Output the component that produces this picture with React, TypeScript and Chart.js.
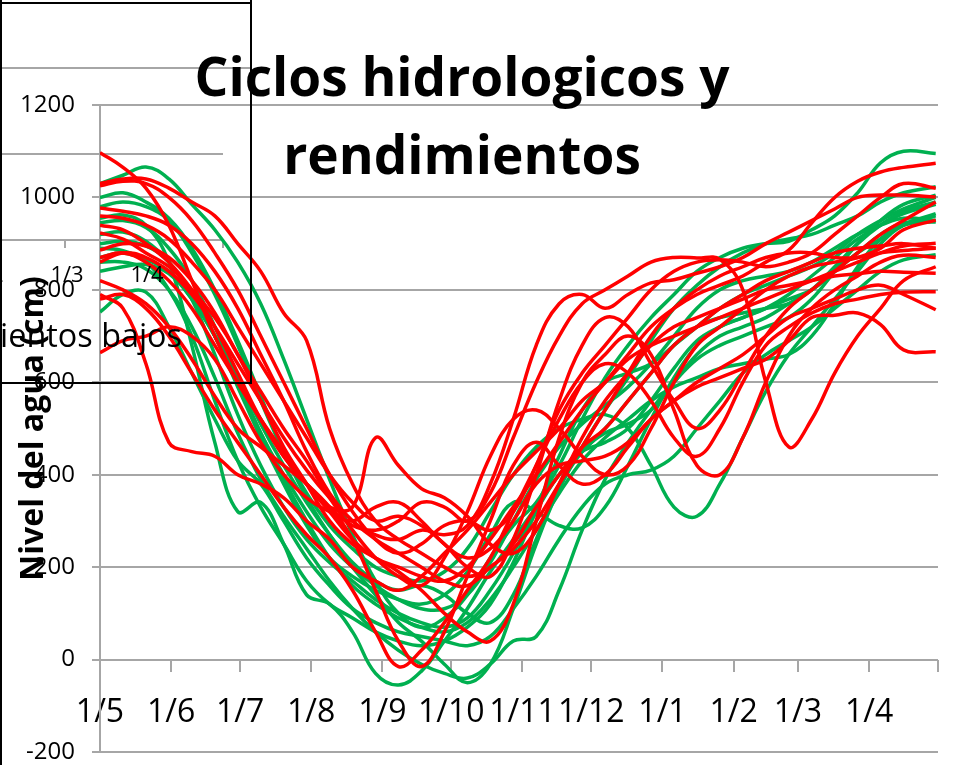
import React, { useEffect, useRef } from 'react';
import { Chart, registerables } from 'chart.js';

Chart.register(...registerables);

// ---- data ----
const DAYS = [0, 10, 20, 30, 40, 50, 60, 70, 80, 90, 100, 110, 120, 130, 140, 150, 160, 170, 180, 190, 200, 210, 220, 230, 240, 250, 260, 270, 280, 290, 300, 310, 320, 330, 340, 350, 364];
const TICK_DAYS = [0, 31, 61, 92, 123, 153, 184, 214, 245, 276, 304, 335, 365];
const TICK_LABELS = ['1/5', '1/6', '1/7', '1/8', '1/9', '1/10', '1/11', '1/12', '1/1', '1/2', '1/3', '1/4', ''];
const Y_MIN = -200;
const Y_MAX = 1200;
const Y_STEP = 200;

const G1 = [1030, 1048, 1066, 1040, 985, 930, 860, 770, 650, 520, 390, 270, 170, 100, 70, 90, 140, 220, 290, 340, 420, 520, 610, 680, 740, 790, 840, 870, 890, 900, 905, 930, 960, 1010, 1075, 1100, 1095];
const G2 = [1000, 1010, 990, 955, 890, 800, 690, 570, 450, 350, 270, 200, 140, 80, 40, -10, -50, -10, 110, 250, 370, 460, 540, 610, 690, 760, 810, 850, 880, 900, 910, 920, 940, 960, 990, 1010, 1023];
const G3 = [955, 962, 940, 860, 680, 470, 320, 340, 250, 140, 120, 60, -30, -55, -25, 40, 110, 190, 260, 330, 400, 450, 500, 560, 620, 680, 720, 740, 750, 760, 770, 800, 850, 900, 940, 970, 990];
const G4 = [945, 950, 935, 890, 820, 720, 600, 490, 400, 320, 250, 200, 160, 130, 110, 110, 140, 210, 300, 390, 460, 510, 550, 590, 640, 700, 760, 800, 820, 830, 840, 860, 890, 920, 940, 955, 950];
const G5 = [900, 905, 895, 860, 780, 660, 530, 420, 330, 260, 210, 170, 130, 100, 80, 70, 90, 150, 230, 330, 440, 540, 600, 620, 640, 680, 720, 760, 790, 810, 830, 850, 880, 920, 950, 975, 1000];
const G6 = [890, 885, 860, 800, 700, 560, 430, 330, 250, 170, 120, 90, 60, 40, 30, 40, 70, 120, 210, 320, 400, 450, 470, 500, 560, 630, 690, 720, 740, 760, 780, 800, 840, 880, 910, 940, 960];
const G7 = [870, 880, 865, 840, 780, 700, 610, 510, 420, 340, 270, 210, 170, 150, 160, 140, 100, 80, 140, 260, 370, 450, 490, 510, 540, 600, 660, 700, 720, 740, 770, 800, 840, 880, 920, 945, 947];
const G8 = [752, 790, 795, 720, 620, 520, 430, 380, 300, 220, 160, 110, 80, 60, 50, 40, 30, 50, 110, 180, 260, 330, 380, 400, 410, 440, 500, 560, 620, 660, 690, 720, 760, 800, 840, 865, 876];
const G9 = [860, 860, 845, 800, 720, 610, 490, 390, 310, 240, 170, 110, 60, 20, -10, -30, -40, -10, 40, 50, 150, 280, 390, 470, 540, 600, 650, 680, 700, 720, 740, 780, 840, 900, 950, 985, 1005];
const G10 = [920, 925, 905, 860, 790, 700, 590, 480, 380, 290, 220, 180, 150, 130, 120, 140, 190, 270, 340, 320, 290, 285, 330, 420, 520, 610, 680, 720, 740, 760, 790, 830, 870, 910, 940, 965, 985];
const G11 = [980, 990, 980, 950, 880, 790, 680, 560, 450, 360, 290, 240, 200, 180, 170, 190, 240, 320, 400, 460, 500, 520, 530, 500, 420, 330, 310, 380, 480, 580, 660, 720, 780, 840, 900, 940, 965];
const G12 = [840, 850, 855, 835, 780, 700, 600, 490, 390, 300, 220, 160, 120, 90, 70, 60, 80, 130, 200, 280, 360, 430, 480, 520, 560, 590, 610, 630, 640, 650, 660, 700, 770, 850, 910, 940, 950];

const R1 = [1097, 1065, 1020, 940, 820, 700, 600, 520, 450, 380, 320, 260, 220, 200, 180, 170, 200, 260, 330, 400, 470, 540, 600, 660, 720, 760, 790, 810, 830, 860, 886, 945, 1000, 1035, 1055, 1065, 1074];
const R2 = [1030, 1040, 1040, 1020, 990, 960, 900, 840, 750, 690, 500, 380, 300, 260, 230, 200, 180, 200, 250, 330, 400, 460, 500, 560, 620, 680, 720, 760, 790, 820, 840, 860, 880, 890, 895, 900, 890];
const R3 = [977, 970, 960, 940, 900, 840, 760, 660, 560, 450, 360, 300, 270, 260, 280, 270, 290, 380, 520, 680, 770, 790, 760, 790, 815, 822, 836, 850, 870, 900, 925, 950, 975, 1000, 1005, 1005, 1001];
const R4 = [870, 880, 860, 820, 760, 680, 600, 520, 440, 380, 330, 330, 480, 420, 370, 350, 310, 250, 230, 280, 380, 480, 560, 620, 680, 720, 740, 760, 780, 800, 810, 820, 830, 835, 840, 838, 836];
const R5 = [790, 760, 640, 470, 450, 440, 400, 380, 350, 300, 260, 200, 170, 150, 180, 230, 280, 340, 400, 450, 500, 560, 600, 650, 680, 700, 720, 740, 760, 780, 800, 820, 840, 860, 880, 895, 901];
const R6 = [664, 690, 700, 720, 700, 650, 560, 470, 400, 350, 320, 300, 330, 340, 300, 250, 220, 240, 300, 380, 420, 430, 440, 470, 520, 560, 590, 610, 630, 650, 690, 740, 745, 750, 725, 670, 666];
const R7 = [923, 910, 880, 850, 800, 740, 660, 560, 460, 380, 300, 250, 220, 190, 150, 100, 60, 40, 120, 300, 480, 600, 660, 700, 660, 540, 420, 400, 480, 600, 700, 760, 800, 830, 860, 875, 870];
const R8 = [886, 900, 895, 870, 820, 750, 660, 580, 500, 430, 350, 280, 220, 180, 160, 220, 320, 440, 520, 540, 500, 440, 400, 420, 500, 600, 680, 720, 760, 800, 830, 850, 860, 870, 890, 930, 951];
const R9 = [780, 790, 760, 700, 620, 540, 470, 400, 330, 270, 220, 150, 60, -15, 20, 80, 150, 220, 320, 420, 520, 600, 640, 620, 560, 480, 440, 500, 600, 680, 720, 750, 770, 780, 790, 795, 796];
const R10 = [1025, 1035, 1030, 1000, 950, 880, 800, 700, 600, 500, 400, 320, 260, 230, 250, 290, 300, 280, 320, 420, 540, 620, 680, 740, 800, 840, 860, 865, 860, 850, 860, 880, 920, 960, 1000, 1030, 1020];
const R11 = [940, 930, 900, 860, 800, 720, 620, 520, 440, 380, 330, 290, 280, 300, 340, 330, 300, 360, 480, 600, 700, 770, 800, 830, 860, 870, 869, 866, 800, 600, 460, 520, 620, 700, 760, 820, 850];
const R12 = [820, 800, 770, 720, 650, 570, 500, 460, 420, 380, 330, 260, 150, 40, -15, 60, 180, 300, 420, 470, 420, 380, 400, 460, 520, 560, 600, 630, 660, 700, 740, 760, 780, 800, 810, 790, 757];
const R13 = [960, 955, 940, 910, 860, 800, 720, 640, 560, 480, 400, 340, 300, 310, 290, 250, 200, 180, 260, 400, 560, 680, 740, 720, 640, 560, 500, 540, 620, 700, 760, 800, 840, 880, 920, 950, 990];
const R14 = [860, 880, 870, 840, 790, 720, 640, 560, 480, 410, 350, 300, 260, 230, 200, 170, 160, 200, 240, 300, 380, 460, 540, 620, 700, 760, 800, 830, 850, 870, 880, 880, 870, 870, 880, 885, 890];

const GREEN_SERIES = [G1, G2, G3, G4, G5, G6, G7, G8, G9, G10, G11, G12];
const RED_SERIES = [R1, R2, R3, R4, R5, R6, R7, R8, R9, R10, R11, R12, R13, R14];

const TITLE_LINES = ['Ciclos hidrologicos y', 'rendimientos'];
const Y_TITLE = 'Nivel del agua (cm)';
const GHOST_TICK_LABELS = ['1/2', '1/3', '1/4'];
const GHOST_TEXT = 'rendimientos bajos';
const GHOST_TEXT_VISIBLE = 'ientos bajos';

const GREEN = '#00B050';
const RED = '#FF0000';
const GRID = '#A6A6A6';
const FONT = "'Open Sans', 'Liberation Sans', sans-serif";

function fitSize(ctx: CanvasRenderingContext2D, text: string, weight: string, target: number) {
  ctx.font = `${weight} 100px ${FONT}`;
  const w = ctx.measureText(text).width;
  return (100 * target) / w;
}

const overlayPlugin = {
  id: 'overlayPlugin',
  beforeDatasetsDraw(chart: any) {
    const ctx: CanvasRenderingContext2D = chart.ctx;
    ctx.save();
    ctx.strokeStyle = GRID;
    ctx.lineWidth = 2;
    const seg = (x1: number, y1: number, x2: number, y2: number) => {
      ctx.beginPath();
      ctx.moveTo(x1, y1);
      ctx.lineTo(x2, y2);
      ctx.stroke();
    };
    seg(0, 68, 251, 68);
    seg(0, 154, 223, 154);
    seg(0, 240, 223, 240);
    [65, 147, 223].forEach((x) => seg(x, 240, x, 248));
    ctx.restore();
  },
  afterDatasetsDraw(chart: any) {
    const ctx: CanvasRenderingContext2D = chart.ctx;
    ctx.save();
    ctx.fillStyle = '#000';
    ctx.textBaseline = 'middle';
    ctx.textAlign = 'center';
    ctx.font = `22px ${FONT}`;
    const xs = [-13, 67, 147];
    GHOST_TICK_LABELS.forEach((t, i) => ctx.fillText(t, xs[i], 276));
    ctx.textAlign = 'right';
    ctx.textBaseline = 'alphabetic';
    const gs = fitSize(ctx, GHOST_TEXT_VISIBLE, 'normal', 182);
    ctx.font = `normal ${gs}px ${FONT}`;
    ctx.fillText(GHOST_TEXT, 182, 347);
    ctx.strokeStyle = '#000';
    ctx.lineWidth = 2;
    ctx.beginPath();
    ctx.moveTo(0, 3);
    ctx.lineTo(251, 3);
    ctx.moveTo(251, 0);
    ctx.lineTo(251, 384);
    ctx.moveTo(0, 383);
    ctx.lineTo(252, 383);
    ctx.moveTo(1, 0);
    ctx.lineTo(1, 765);
    ctx.stroke();
    ctx.restore();
  },
  afterDraw(chart: any) {
    const ctx: CanvasRenderingContext2D = chart.ctx;
    const area = chart.chartArea;
    ctx.save();
    ctx.fillStyle = '#000';
    const ys = fitSize(ctx, Y_TITLE, 'bold', 305);
    ctx.font = `bold ${ys}px ${FONT}`;
    ctx.translate(34, (area.top + area.bottom) / 2);
    ctx.rotate(-Math.PI / 2);
    ctx.textAlign = 'center';
    ctx.textBaseline = 'middle';
    ctx.fillText(Y_TITLE, 0, 0);
    ctx.restore();
    ctx.save();
    ctx.fillStyle = '#000';
    const ts = fitSize(ctx, TITLE_LINES[0], 'bold', 535);
    ctx.font = `bold ${ts}px ${FONT}`;
    ctx.textAlign = 'center';
    ctx.textBaseline = 'alphabetic';
    ctx.fillText(TITLE_LINES[0], 462, 96);
    ctx.fillText(TITLE_LINES[1], 462, 174);
    ctx.restore();
  },
};

export default function App() {
  const ref = useRef<HTMLCanvasElement>(null);
  useEffect(() => {
    const mk = (s: number[], k: number, color: string, prefix: string) => ({
      label: `${prefix}${k + 1}`,
      data: DAYS.map((d, i) => ({ x: d, y: s[i] })),
      borderColor: color,
      backgroundColor: color,
      borderWidth: 3.5,
      pointRadius: 0,
      tension: 0.4,
      fill: false,
    });
    const datasets = [
      ...RED_SERIES.map((s, k) => mk(s, k, RED, 'R')),
      ...GREEN_SERIES.map((s, k) => mk(s, k, GREEN, 'G')),
    ];
    const chart = new Chart(ref.current as HTMLCanvasElement, {
      type: 'line',
      data: { datasets },
      options: {
        responsive: false,
        animation: false,
        events: [],
        layout: { padding: { left: 0, right: 23, top: 105, bottom: 13 }, autoPadding: false },
        plugins: { legend: { display: false }, tooltip: { enabled: false }, title: { display: false } },
        scales: {
          x: {
            type: 'linear',
            min: TICK_DAYS[0],
            max: TICK_DAYS[TICK_DAYS.length - 1],
            position: { y: 0 },
            afterBuildTicks: (scale: any) => {
              scale.ticks = TICK_DAYS.map((v) => ({ value: v }));
            },
            afterFit: (scale: any) => {
              scale.height = 0;
              scale.paddingLeft = 0;
              scale.paddingRight = 0;
              scale.paddingTop = 0;
              scale.paddingBottom = 0;
            },
            grid: { drawOnChartArea: false, drawTicks: true, tickLength: 12, color: GRID, lineWidth: 2 },
            border: { display: false },
            ticks: {
              autoSkip: false,
              maxRotation: 0,
              minRotation: 0,
              padding: 22,
              color: '#000',
              font: { family: FONT, size: 32 },
              callback: (_v: any, i: number) => TICK_LABELS[i],
            },
          },
          y: {
            type: 'linear',
            min: Y_MIN,
            max: Y_MAX,
            afterFit: (scale: any) => {
              scale.width = 100;
              scale.paddingTop = 0;
              scale.paddingBottom = 0;
            },
            grid: { color: GRID, lineWidth: 2, tickLength: 8 },
            border: { color: GRID, width: 2 },
            ticks: {
              stepSize: Y_STEP,
              padding: 17,
              color: '#000',
              font: { family: FONT, size: 24 },
              callback: (v: any) => String(v),
            },
          },
        },
      },
      plugins: [overlayPlugin],
    } as any);
    return () => chart.destroy();
  }, []);
  return (
    <div style={{ position: 'absolute', left: 0, top: 0, width: 961, height: 765, background: '#fff' }}>
      <canvas ref={ref} width={961} height={765} style={{ display: 'block', width: 961, height: 765 }} />
    </div>
  );
}
